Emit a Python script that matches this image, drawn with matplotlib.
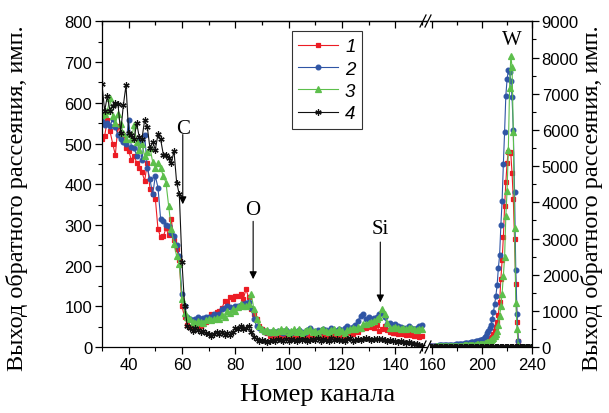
import matplotlib.pyplot as plt
import numpy as np
from matplotlib.lines import Line2D

plt.rcParams['font.family'] = ['Liberation Sans', 'DejaVu Sans']

# номера каналов: левая часть (шкала слева) и правая часть (шкала справа)
ch_left = np.arange(30, 151)
ch_right = np.arange(157, 241)

red_left = [510, 519, 558, 530, 500, 472, 544, 515, 520, 490,
            482, 460, 470, 453, 441, 430, 408, 453, 388, 375,
            365, 290, 270, 272, 292, 275, 314, 262, 240, 215,
            100, 74, 55, 50, 52, 56, 50, 52, 58, 63,
            70, 81, 74, 86, 89, 95, 114, 110, 122, 118,
            126, 126, 130, 118, 142, 122, 93, 81, 69, 52,
            45, 38, 35, 28, 32, 26, 30, 25, 28, 30,
            26, 29, 24, 30, 27, 25, 31, 28, 24, 30,
            28, 32, 26, 30, 28, 33, 27, 29, 25, 31,
            30, 28, 34, 36, 33, 40, 38, 44, 48, 46,
            52, 50, 48, 55, 40, 45, 52, 42, 38, 36,
            34, 32, 35, 32, 30, 33, 31, 28, 30, 26,
            28]
blue_left = [555, 545, 550, 542, 561, 540, 520, 510, 505, 500,
             558, 492, 490, 470, 506, 460, 520, 440, 412, 375,
             420, 392, 314, 310, 300, 298, 281, 273, 250, 225,
             130, 101, 74, 69, 66, 69, 74, 70, 72, 73,
             75, 75, 81, 78, 82, 93, 95, 101, 98, 96,
             100, 101, 103, 105, 108, 110, 95, 69, 52, 46,
             42, 38, 40, 36, 39, 35, 40, 38, 36, 41,
             38, 36, 40, 37, 41, 38, 36, 42, 48, 40,
             38, 42, 40, 45, 42, 40, 46, 42, 40, 44,
             42, 46, 52, 48, 50, 55, 65, 77, 81, 69,
             73, 70, 72, 73, 81, 85, 73, 56, 60, 55,
             58, 52, 50, 48, 46, 52, 48, 44, 48, 52,
             55]
green_left = [570, 572, 580, 612, 567, 550, 572, 547, 527, 510,
              523, 510, 545, 503, 485, 498, 470, 478, 490, 455,
              441, 453, 440, 420, 404, 347, 290, 253, 224, 205,
              118, 85, 74, 70, 62, 60, 64, 62, 60, 66,
              69, 66, 68, 72, 70, 78, 74, 89, 85, 93,
              90, 98, 105, 102, 100, 105, 130, 93, 69, 52,
              44, 40, 42, 38, 42, 38, 40, 44, 40, 44,
              36, 40, 44, 38, 44, 36, 40, 42, 44, 38,
              40, 36, 42, 44, 40, 38, 42, 44, 38, 44,
              40, 36, 42, 44, 48, 44, 50, 48, 56, 58,
              60, 62, 65, 70, 73, 93, 81, 60, 48, 46,
              50, 48, 44, 46, 44, 48, 46, 44, 42, 44,
              44]
black_left = [645, 580, 617, 580, 592, 600, 597, 527, 594, 643,
              527, 522, 510, 550, 515, 512, 558, 540, 488, 504,
              485, 523, 510, 473, 473, 465, 452, 482, 404, 375,
              208, 101, 52, 46, 40, 46, 42, 37, 40, 35,
              32, 28, 33, 37, 32, 37, 30, 34, 30, 38,
              48, 44, 52, 44, 48, 52, 37, 25, 21, 14,
              18, 14, 12, 16, 18, 15, 20, 17, 15, 19,
              16, 20, 18, 15, 19, 17, 21, 16, 18, 20,
              17, 22, 16, 20, 18, 15, 22, 18, 20, 17,
              18, 15, 20, 22, 16, 18, 20, 17, 19, 22,
              20, 18, 21, 20, 19, 20, 17, 16, 18, 15,
              14, 13, 15, 12, 11, 12, 10, 9, 8, 6,
              3]

red_right = [20, 21, 22, 22, 23, 24, 24, 25, 26, 26,
             27, 28, 29, 30, 30, 31, 32, 33, 34, 35,
             36, 37, 38, 39, 40, 42, 43, 45, 46, 48,
             50, 52, 54, 56, 58, 60, 62, 64, 66, 68,
             70, 72, 74,
             75, 85, 100, 120, 140, 170, 200, 240, 290, 360,
             450, 550, 690, 900, 1240, 1880, 2400, 3040, 3900, 4550,
             5100, 5400, 5380, 5350, 4800, 4090, 2980, 1740, 690, 175,
             0, 0, 0, 0, 0, 0, 0, 0, 0, 0, 0]
blue_right = [35, 36, 38, 40, 41, 42, 44, 45, 47, 48,
              50, 52, 53, 55, 57, 59, 61, 63, 65, 68,
              70, 73, 76, 79, 82, 86, 90, 94, 98, 103,
              108, 113, 118, 124, 130, 136, 142, 150, 158, 166,
              175, 185, 192,
              200, 230, 268, 312, 380, 450, 520, 616, 773, 960,
              1190, 1420, 1720, 2190, 2540, 3370, 4040, 5050, 5950, 6950,
              7400, 7650, 7600, 7350, 6900, 6000, 4300, 2120, 915, 175,
              0, 0, 0, 0, 0, 0, 0, 0, 0, 0, 0]
green_right = [15, 16, 16, 17, 18, 18, 19, 20, 20, 21,
               22, 23, 24, 25, 26, 27, 28, 29, 30, 32,
               33, 35, 36, 38, 40, 42, 44, 46, 48, 50,
               52, 54, 56, 58, 60, 63, 66, 69, 72, 75,
               78, 82, 86,
               90, 100, 108, 118, 130, 145, 165, 190, 220, 260,
               310, 360, 450, 620, 850, 1140, 1480, 1970, 2480, 3630,
               4320, 5450, 7150, 8050, 7750, 5950, 3300, 1230, 500, 50,
               0, 0, 0, 0, 0, 0, 0, 0, 0, 0, 0]
black_right = [12, 15, 10, 14, 18, 11, 13, 16, 12, 10,
               14, 17, 12, 15, 11, 13, 16, 14, 10, 12,
               15, 13, 11, 17, 14, 12, 16, 10, 13, 15,
               12, 14, 18, 11, 13, 15, 12, 16, 14, 10,
               13, 15, 12,
               14, 11, 16, 13, 12, 15, 10, 14, 17, 12,
               13, 15, 11, 14, 16, 12, 13, 10, 15, 14,
               12, 16, 13, 11, 14, 15, 12, 10, 13, 14,
               12, 15, 11, 13, 14, 12, 10, 13, 15, 11, 12]

series = [
    ('1', '#ec1c24', 's', 3.2, red_left, red_right),
    ('2', '#2f55a5', 'o', 3.4, blue_left, blue_right),
    ('3', '#5dbf4c', '^', 3.8, green_left, green_right),
    ('4', '#111111', (6, 2, 0), 4.5, black_left, black_right),
]

fig = plt.figure(figsize=(6.09, 4.14), dpi=100)
ax1 = fig.add_axes([0.1675, 0.159, 0.534, 0.787])
ax2 = fig.add_axes([0.706, 0.159, 0.1675, 0.787])

for lab, col, mk, ms, yl, yr in series:
    ax1.plot(ch_left, yl, color=col, marker=mk, ms=ms, lw=0.8, mec=col, mew=0.9, label=lab)
    ax2.plot(ch_right, yr, color=col, marker=mk, ms=ms, lw=0.8, mec=col, mew=0.9)

ax1.set_xlim(30, 152)
ax1.set_ylim(0, 800)
ax2.set_xlim(158, 240)
ax2.set_ylim(0, 9000)

ax1.spines['right'].set_visible(False)
ax2.spines['left'].set_visible(False)
for ax in (ax1, ax2):
    for s in ax.spines.values():
        s.set_linewidth(0.9)

ax1.set_xticks(range(40, 141, 20))
ax1.set_xticks(range(30, 151, 10), minor=True)
ax1.set_yticks(range(0, 801, 100))
ax1.set_yticks(range(50, 800, 100), minor=True)
ax1.tick_params(which='major', direction='out', length=5, width=0.9, labelsize=12, pad=2)
ax1.tick_params(which='minor', direction='out', length=3, width=0.8)

ax2.set_xticks([160, 200, 240])
ax2.set_xticks([180, 220], minor=True)
ax2.set_yticks(range(0, 9001, 1000))
ax2.set_yticks(range(500, 9000, 1000), minor=True)
ax2.yaxis.tick_right()
ax2.tick_params(which='major', direction='out', length=5, width=0.9, labelsize=12, pad=2)
ax2.tick_params(which='minor', direction='out', length=3, width=0.8)

# верхние штрихи внутрь
for ax, maj, mnr in ((ax1, range(40, 141, 20), range(30, 151, 10)),
                     (ax2, [160, 200, 240], [180, 220])):
    top = ax.secondary_xaxis('top')
    top.set_xticks(list(maj))
    top.set_xticks(list(mnr), minor=True)
    top.tick_params(which='both', direction='in', labeltop=False, width=0.9)
    top.tick_params(which='major', length=5)
    top.tick_params(which='minor', length=3)
    top.spines['top'].set_linewidth(0.9)

# подписи элементов
serif = ['Liberation Serif', 'DejaVu Serif']
arrow = dict(arrowstyle='-|>', color='k', lw=0.8, mutation_scale=11, shrinkA=0, shrinkB=0)
ax1.text(60.3, 536, 'C', ha='center', va='center', fontsize=15, family=serif)
ax1.annotate('', xy=(60.3, 351), xytext=(60.3, 522), arrowprops=arrow)
ax1.text(86.7, 339, 'O', ha='center', va='center', fontsize=15, family=serif)
ax1.annotate('', xy=(86.7, 167), xytext=(86.7, 309), arrowprops=arrow)
ax1.text(134.4, 292, 'Si', ha='center', va='center', fontsize=15, family=serif)
ax1.annotate('', xy=(134.4, 110), xytext=(134.4, 258), arrowprops=arrow)
ax2.text(224, 8500, 'W', ha='center', va='center', fontsize=15, family=serif)

leg = ax1.legend(loc='upper left', bbox_to_anchor=(0.583, 0.969), frameon=True, fancybox=False,
                 edgecolor='k', prop={'family': 'Liberation Sans', 'style': 'italic', 'size': 13.5},
                 handlelength=2.1, borderpad=0.35, labelspacing=0.28, handletextpad=0.4,
                 borderaxespad=0)
leg.get_frame().set_linewidth(0.8)

# значки разрыва оси
W, H = 609, 414
for py in (22, 348):
    for px in (423, 428):
        fig.add_artist(Line2D([(px - 3) / W, (px + 3) / W], [1 - (py + 6) / H, 1 - (py - 6) / H],
                              color='k', lw=0.9))

ylab = 'Выход обратного рассеяния, имп.'
fig.text(0.028, 0.522, ylab, rotation=90, ha='center', va='center', fontsize=17.5, family=serif)
fig.text(0.972, 0.522, ylab, rotation=90, ha='center', va='center', fontsize=17.5, family=serif)
fig.text(0.522, 0.046, 'Номер канала', ha='center', va='center', fontsize=19, family=serif)

fig.savefig('out.png', dpi=100)
